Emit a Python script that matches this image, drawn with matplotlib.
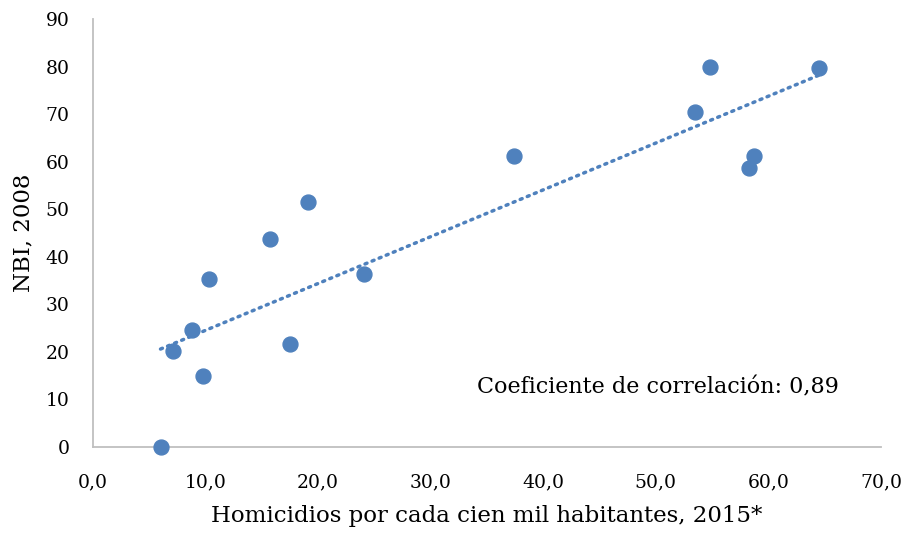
import numpy as np
import matplotlib.pyplot as plt
from matplotlib.ticker import FuncFormatter, MultipleLocator

# homicide rate per 100k (2015) vs NBI (2008)
homicidios = [6.0, 7.1, 8.8, 9.8, 10.3, 15.7, 17.5, 19.1, 24.1,
              37.4, 53.5, 54.8, 58.3, 58.7, 64.5]
nbi = [0.0, 20.1, 24.6, 14.9, 35.3, 43.7, 21.6, 51.6, 36.4,
       61.2, 70.4, 79.9, 58.6, 61.1, 79.6]

BLUE = '#4F81BD'
plt.rcParams['font.family'] = ['DejaVu Serif']

fig = plt.figure(figsize=(9.06, 5.33), dpi=100)
ax = fig.add_axes([0.1026, 0.1614, 0.8698, 0.803])

x = np.array(homicidios)
y = np.array(nbi)
ax.scatter(x, y, s=115, color=BLUE, zorder=3, clip_on=False)

# linear trend line
m, b = np.polyfit(x, y, 1)
xt = np.array([x.min(), x.max()])
ax.plot(xt, m * xt + b, color=BLUE, lw=2.5, ls=(0, (0.6, 1.6)),
        dash_capstyle='round', zorder=2)

ax.set_xlim(0, 70)
ax.set_ylim(0, 90)
ax.xaxis.set_major_locator(MultipleLocator(10))
ax.yaxis.set_major_locator(MultipleLocator(10))
ax.xaxis.set_major_formatter(FuncFormatter(lambda v, p: f'{v:.1f}'.replace('.', ',')))
ax.yaxis.set_major_formatter(FuncFormatter(lambda v, p: f'{v:.0f}'))

for s in ['top', 'right']:
    ax.spines[s].set_visible(False)
for s in ['left', 'bottom']:
    ax.spines[s].set_color('#BFBFBF')
    ax.spines[s].set_linewidth(1.3)
ax.tick_params(length=0, labelsize=13.5, colors='black')
ax.tick_params(axis='y', pad=17)
ax.tick_params(axis='x', pad=19)

ax.set_xlabel('Homicidios por cada cien mil habitantes, 2015*', fontsize=16.5, labelpad=10)
ax.set_ylabel('NBI, 2008', fontsize=16.5, labelpad=8)

ax.text(66.3, 12.6, 'Coeficiente de correlación: 0,89', fontsize=16,
        ha='right', va='center')

fig.savefig('out.png', dpi=100)
